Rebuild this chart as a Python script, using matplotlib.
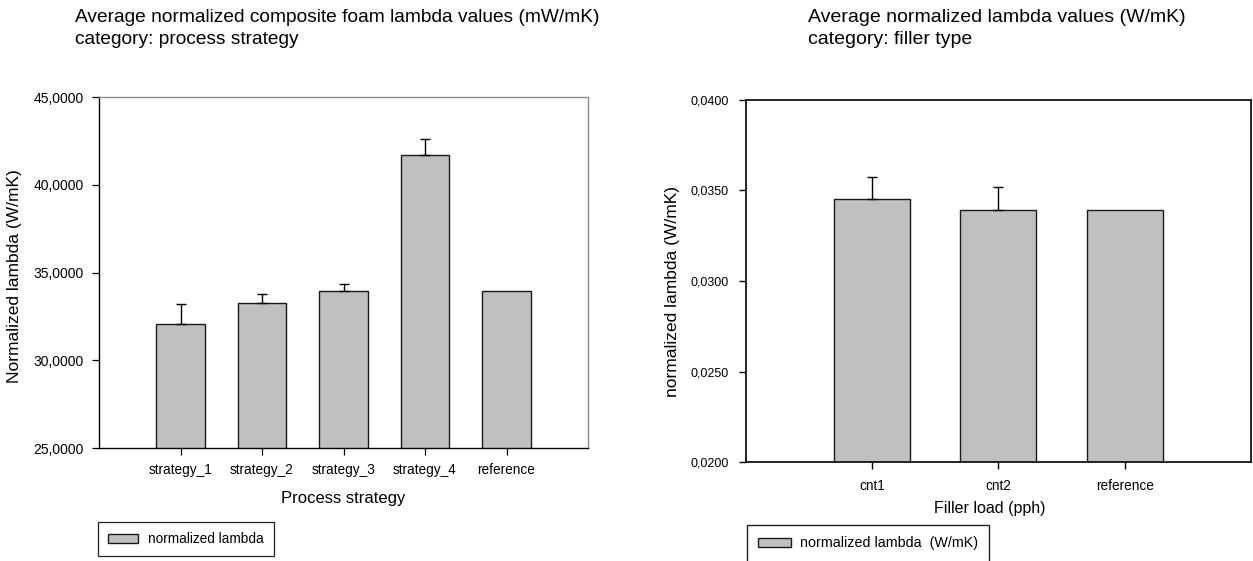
import matplotlib.pyplot as plt
import numpy as np

plt.rcParams['font.family'] = ['Liberation Sans', 'DejaVu Sans']

# left panel: process strategy
strategies = ['strategy_1', 'strategy_2', 'strategy_3', 'strategy_4', 'reference']
lam_strategy = [32.05, 33.24, 33.97, 41.68, 33.93]
err_strategy = [1.15, 0.52, 0.36, 0.91, 0.0]

# right panel: filler type
fillers = ['cnt1', 'cnt2', 'reference']
lam_filler = [0.03454, 0.0339, 0.0339]
err_filler = [0.0012, 0.00127, 0.0]

W, H = 1253, 561
fig = plt.figure(figsize=(W / 100, H / 100), dpi=100)

bar_kw = dict(width=0.6, color='#c0c0c0', edgecolor='#1a1a1a', linewidth=1.0, zorder=2)
err_kw = dict(ecolor='black', elinewidth=1.0, capsize=3.6, capthick=1.0)


def px(x0, y0, x1, y1):
    # pixel box -> figure fraction
    return [x0 / W, 1 - y1 / H, (x1 - x0) / W, (y1 - y0) / H]


# ---- left
ax1 = fig.add_axes(px(99, 97, 588, 448))
x1 = np.arange(len(strategies))
ax1.bar(x1, lam_strategy, label='normalized lambda', **bar_kw)
ax1.errorbar(x1[:4], lam_strategy[:4], yerr=[np.zeros(4), err_strategy[:4]], fmt='none', zorder=3, **err_kw)
ax1.set_xlim(-1, 5)
ax1.set_ylim(25, 45)
ax1.set_yticks([25, 30, 35, 40, 45])
ax1.set_yticklabels(['25,0000', '30,0000', '35,0000', '40,0000', '45,0000'], fontsize=10)
ax1.set_xticks(x1)
ax1.set_xticklabels(strategies, fontsize=9.8)
ax1.tick_params(axis='y', direction='out', length=5, width=0.9, pad=6)
ax1.tick_params(axis='x', direction='out', length=5, width=0.9, pad=6)
ax1.set_ylabel('Normalized lambda (W/mK)', fontsize=12.5, va='center')
ax1.yaxis.set_label_coords((15 - 99) / 489, 0.49)
ax1.set_xlabel('Process strategy', fontsize=12, va='center')
ax1.xaxis.set_label_coords((343 - 99) / 489, -(498 - 448) / 351)
for s in ax1.spines.values():
    s.set_linewidth(1.0)
ax1.spines['top'].set_color('#8c8c8c')
ax1.spines['right'].set_color('#8c8c8c')
leg1 = ax1.legend(loc='upper left', bbox_to_anchor=(98 / W, 1 - 522 / H, 176 / W, 0),
                  bbox_transform=fig.transFigure, mode='expand', fancybox=False,
                  edgecolor='#222222', fontsize=9.8, handlelength=2.2, handleheight=0.6,
                  handletextpad=0.7, borderpad=0.75, borderaxespad=0, framealpha=1)
leg1.get_frame().set_linewidth(0.9)

fig.text(75 / W, 1 - 18 / H, 'Average normalized composite foam lambda values (mW/mK)',
         fontsize=13.8, va='center', ha='left')
fig.text(75 / W, 1 - 39 / H, 'category: process strategy',
         fontsize=13.8, va='center', ha='left')

# ---- right
ax2 = fig.add_axes(px(745.5, 100, 1251, 462))
x2 = np.arange(len(fillers))
ax2.bar(x2, lam_filler, label='normalized lambda  (W/mK)', **bar_kw)
ax2.errorbar(x2[:2], lam_filler[:2], yerr=[np.zeros(2), err_filler[:2]], fmt='none', zorder=3, **err_kw)
ax2.set_xlim(-1, 3)
ax2.set_ylim(0.02, 0.04)
ax2.set_yticks([0.02, 0.025, 0.03, 0.035, 0.04])
ax2.set_yticklabels(['0,0200', '0,0250', '0,0300', '0,0350', '0,0400'], fontsize=9)
ax2.set_xticks(x2)
ax2.set_xticklabels(fillers, fontsize=9.8)
ax2.tick_params(axis='y', direction='out', length=5, width=1.0, pad=7)
ax2.tick_params(axis='x', direction='out', length=5, width=1.0, pad=7)
ax2.set_ylabel('normalized lambda (W/mK)', fontsize=12.5, va='center')
ax2.yaxis.set_label_coords((672 - 745.5) / 505.5, 0.47)
ax2.set_xlabel('Filler load (pph)', fontsize=11.5, va='center')
ax2.xaxis.set_label_coords((990 - 745.5) / 505.5, -(508 - 462) / 362)
for s in ax2.spines.values():
    s.set_linewidth(1.2)
leg2 = ax2.legend(loc='upper left', bbox_to_anchor=(747 / W, 1 - 525 / H, 242 / W, 0),
                  bbox_transform=fig.transFigure, mode='expand', fancybox=False,
                  edgecolor='#222222', fontsize=10.3, handlelength=2.3, handleheight=0.6,
                  handletextpad=0.6, borderpad=0.8, borderaxespad=0, framealpha=1)
leg2.get_frame().set_linewidth(1.0)

fig.text(808 / W, 1 - 18 / H, 'Average normalized lambda values (W/mK)',
         fontsize=14, va='center', ha='left')
fig.text(808 / W, 1 - 39 / H, 'category: filler type',
         fontsize=14, va='center', ha='left')

fig.savefig('out.png', dpi=100)
